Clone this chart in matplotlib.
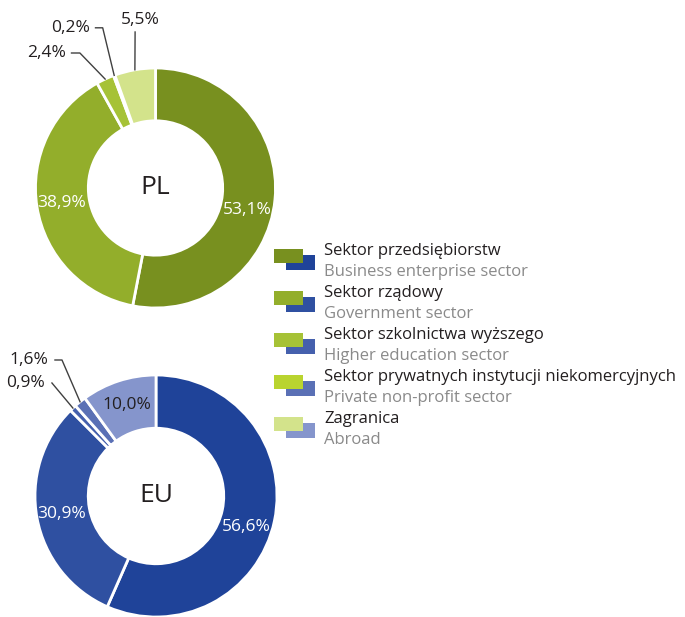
import numpy as np
import matplotlib
matplotlib.use('Agg')
import matplotlib.pyplot as plt
from matplotlib.patches import Rectangle

plt.rcParams['font.family'] = ['Open Sans', 'DejaVu Sans']

W, H = 685, 617

sectors_pl = ['Sektor przedsiębiorstw', 'Sektor rządowy', 'Sektor szkolnictwa wyższego',
              'Sektor prywatnych instytucji niekomercyjnych', 'Zagranica']
sectors_en = ['Business enterprise sector', 'Government sector', 'Higher education sector',
              'Private non-profit sector', 'Abroad']
pl_vals = [53.1, 38.9, 2.4, 0.2, 5.5]
eu_vals = [56.6, 30.9, 0.9, 1.6, 10.0]
pl_labels = ['53,1%', '38,9%', '2,4%', '0,2%', '5,5%']
eu_labels = ['56,6%', '30,9%', '0,9%', '1,6%', '10,0%']

green = ['#78901f', '#93ae2b', '#a6c236', '#b9d42f', '#d3e38b']
blue = ['#1f4399', '#2f50a1', '#4560ad', '#5a70b5', '#8595cc']
dark = '#231f20'

fig = plt.figure(figsize=(W / 100, H / 100), dpi=100)


def donut(cx, cy, r, vals, labels, colors, name, inside, nudge, outside):
    ax = fig.add_axes([(cx - r) / W, 1 - (cy + r) / H, 2 * r / W, 2 * r / H])
    wedges, _ = ax.pie(vals, colors=colors, startangle=90, counterclock=False, radius=1,
                       wedgeprops=dict(width=0.44, edgecolor='white', linewidth=2))
    ax.set_xlim(-1, 1)
    ax.set_ylim(-1, 1)
    ax.axis('off')
    ax.text(0, 0, name, ha='center', va='center', fontsize=19, color=dark)
    for i, w in enumerate(wedges):
        mid = np.deg2rad((w.theta1 + w.theta2) / 2 + nudge[i])
        if i in inside:
            col = dark if i == 4 and name == 'EU' else 'white'
            ax.text(0.79 * np.cos(mid), 0.79 * np.sin(mid), labels[i], ha='center',
                    va='center', fontsize=12.5, color=col)
        elif i in outside:
            tx, ty, pts = outside[i]
            px, py = 1.0 * np.cos(mid), 1.0 * np.sin(mid)
            xs = [p[0] for p in pts] + [px]
            ys = [p[1] for p in pts] + [py]
            ax.plot(xs, ys, color='#404040', lw=1, clip_on=False)
            ax.text(tx, ty, labels[i], ha='right' if tx < -0.3 else 'center', va='center',
                    fontsize=12.5, color=dark, clip_on=False)
    return ax


donut(155.5, 188, 120, pl_vals, pl_labels, green, 'PL', [0, 1], [-8, 0, 0, 0, 0],
      {2: (-0.75, 1.125, [(-0.70, 1.125), (-0.63, 1.125)]),
       3: (-0.55, 1.335, [(-0.50, 1.335), (-0.44, 1.335)]),
       4: (-0.13, 1.40, [(-0.17, 1.30)])})

donut(156, 496, 121, eu_vals, eu_labels, blue, 'EU', [0, 1, 4], [-7, 0, 0, 0, 0],
      {2: (-0.92, 0.934, [(-0.86, 0.934)]),
       3: (-0.89, 1.124, [(-0.835, 1.124), (-0.777, 1.124)])})

# legend with paired swatches
for i in range(5):
    top = 249 + 42 * i
    fig.patches.append(Rectangle((286 / W, 1 - (top + 21) / H), 29 / W, 15 / H,
                                 transform=fig.transFigure, color=blue[i], lw=0))
    fig.patches.append(Rectangle((274 / W, 1 - (top + 14) / H), 29 / W, 14 / H,
                                 transform=fig.transFigure, color=green[i], lw=0))
    fig.text(324 / W, 1 - (top + 2) / H, sectors_pl[i], fontsize=12, color=dark, va='center')
    fig.text(324 / W, 1 - (top + 23) / H, sectors_en[i], fontsize=12, color='#8a8a8a', va='center')

fig.savefig('out.png', dpi=100)
